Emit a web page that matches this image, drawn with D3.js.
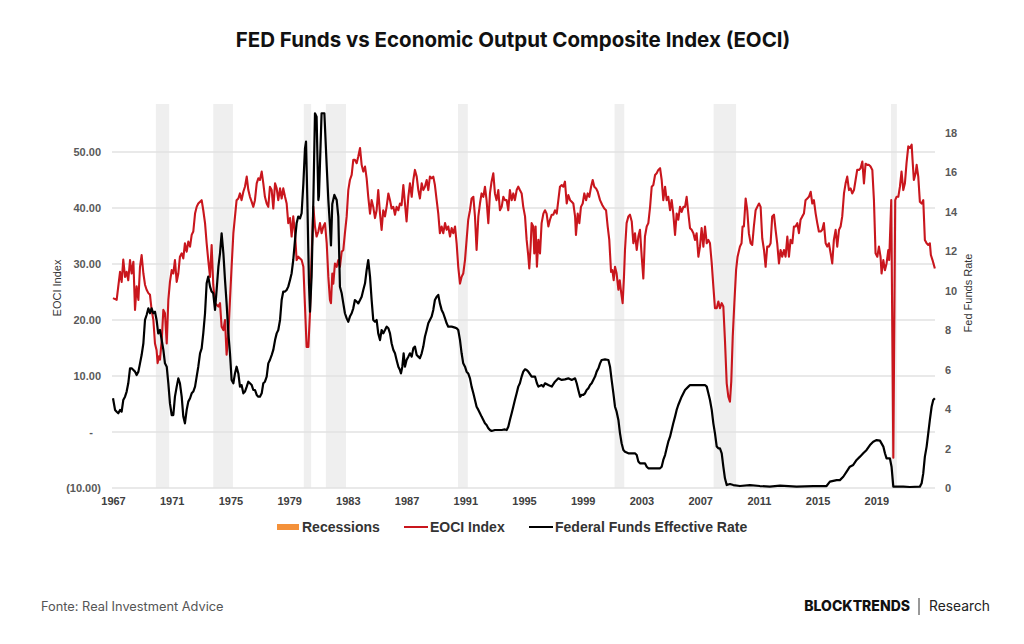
<!DOCTYPE html>
<html>
<head>
<meta charset="utf-8">
<script src="https://cdn.jsdelivr.net/npm/d3@7/dist/d3.min.js"></script>
<style>
  body { margin: 0; background: #fff; }
</style>
</head>
<body>
<svg id="chart" width="1024" height="644"></svg>
<script>
// recession bands (start / end, decimal years)
const recessionStarts = [1969.92, 1973.83, 1980.0, 1981.5, 1990.5, 2001.17, 2007.92, 2020.0];
const recessionEnds   = [1970.83, 1975.17, 1980.5, 1982.87, 1991.17, 2001.83, 2009.45, 2020.4];

const eociYears = [
  1967.00, 1967.25, 1967.36, 1967.48, 1967.59, 1967.70, 1967.82, 1967.93, 1968.04, 1968.16, 1968.27, 1968.39, 1968.50, 1968.61, 1968.73, 1968.84, 1968.95,
  1969.07, 1969.18, 1969.29, 1969.41, 1969.52, 1969.63, 1969.75, 1969.86, 1969.97, 1970.04, 1970.13, 1970.20, 1970.32, 1970.43, 1970.54, 1970.66, 1970.77, 1970.88,
  1971.00, 1971.11, 1971.22, 1971.34, 1971.45, 1971.56, 1971.68, 1971.79, 1971.90, 1972.02, 1972.13, 1972.25, 1972.36, 1972.47, 1972.59, 1972.70, 1972.81,
  1973.04, 1973.15, 1973.27, 1973.38, 1973.49, 1973.61, 1973.72, 1973.83, 1973.95, 1974.18, 1974.29, 1974.40, 1974.52, 1974.63, 1974.74, 1974.86, 1974.97,
  1975.08, 1975.20, 1975.42, 1975.54, 1975.65, 1975.76, 1975.88, 1975.99, 1976.11, 1976.22, 1976.33, 1976.45, 1976.56, 1976.67, 1976.79, 1976.90,
  1977.01, 1977.13, 1977.24, 1977.35, 1977.47, 1977.58, 1977.69, 1977.81, 1977.92, 1978.04, 1978.15, 1978.26, 1978.38, 1978.49, 1978.60, 1978.72, 1978.83, 1978.94,
  1979.06, 1979.17, 1979.28, 1979.40, 1979.51, 1979.62, 1979.85, 1979.97, 1980.08, 1980.19, 1980.31, 1980.42, 1980.53, 1980.65, 1980.76, 1980.87, 1980.99,
  1981.10, 1981.21, 1981.33, 1981.44, 1981.56, 1981.67, 1981.78, 1981.85, 1981.94, 1982.01, 1982.12, 1982.24, 1982.35, 1982.46, 1982.58, 1982.69, 1982.80, 1982.92,
  1983.03, 1983.14, 1983.26, 1983.37, 1983.48, 1983.60, 1983.71, 1983.83, 1983.94, 1984.05, 1984.17, 1984.28, 1984.39, 1984.51, 1984.62, 1984.73, 1984.85, 1984.96,
  1985.07, 1985.19, 1985.30, 1985.41, 1985.53, 1985.64, 1985.76, 1985.87, 1985.98, 1986.10, 1986.21, 1986.32, 1986.44, 1986.55, 1986.66, 1986.78, 1986.89,
  1987.00, 1987.12, 1987.23, 1987.35, 1987.46, 1987.57, 1987.69, 1987.80, 1987.91, 1988.03, 1988.14, 1988.25, 1988.37, 1988.48, 1988.59, 1988.71, 1988.82, 1988.93,
  1989.05, 1989.16, 1989.27, 1989.39, 1989.50, 1989.62, 1989.73, 1989.84, 1989.96, 1990.07, 1990.18, 1990.30, 1990.41, 1990.52, 1990.64, 1990.75, 1990.86, 1990.98,
  1991.09, 1991.20, 1991.32, 1991.43, 1991.55, 1991.66, 1991.77, 1991.89, 1992.00, 1992.11, 1992.23, 1992.34, 1992.45, 1992.57, 1992.68, 1992.79, 1992.91,
  1993.02, 1993.13, 1993.25, 1993.36, 1993.48, 1993.59, 1993.70, 1993.82, 1993.93, 1994.04, 1994.16, 1994.27, 1994.38, 1994.50, 1994.61, 1994.72, 1994.84, 1994.95,
  1995.07, 1995.18, 1995.29, 1995.36, 1995.45, 1995.52, 1995.63, 1995.70, 1995.79, 1995.88, 1995.98, 1996.09, 1996.20, 1996.32, 1996.43, 1996.54, 1996.66, 1996.77, 1996.89,
  1997.00, 1997.11, 1997.23, 1997.34, 1997.45, 1997.57, 1997.68, 1997.79, 1997.91, 1998.02, 1998.14, 1998.25, 1998.36, 1998.48, 1998.54, 1998.66, 1998.77, 1998.88,
  1999.00, 1999.11, 1999.23, 1999.34, 1999.45, 1999.57, 1999.68, 1999.79, 1999.91, 2000.02, 2000.18, 2000.34, 2000.47, 2000.59, 2000.70, 2000.81, 2000.93,
  2001.02, 2001.11, 2001.20, 2001.31, 2001.43, 2001.52, 2001.61, 2001.72, 2001.81, 2001.88, 2001.99, 2002.11, 2002.22, 2002.34, 2002.45, 2002.56, 2002.68, 2002.79, 2002.90,
  2003.02, 2003.13, 2003.24, 2003.36, 2003.47, 2003.59, 2003.70, 2003.81, 2003.93, 2004.04, 2004.15, 2004.27, 2004.38, 2004.49, 2004.61, 2004.72, 2004.83, 2004.95,
  2005.06, 2005.17, 2005.29, 2005.40, 2005.51, 2005.63, 2005.74, 2005.86, 2005.97, 2006.08, 2006.20, 2006.31, 2006.42, 2006.54, 2006.65, 2006.76, 2006.88, 2006.99,
  2007.10, 2007.22, 2007.33, 2007.45, 2007.56, 2007.67, 2007.79, 2007.90, 2008.01, 2008.13, 2008.24, 2008.35, 2008.47, 2008.58, 2008.69, 2008.81, 2008.92,
  2009.03, 2009.12, 2009.22, 2009.33, 2009.45, 2009.55, 2009.71, 2009.82, 2009.89, 2009.98, 2010.10, 2010.21, 2010.32, 2010.44, 2010.55, 2010.66, 2010.78, 2010.89,
  2011.01, 2011.12, 2011.23, 2011.35, 2011.46, 2011.57, 2011.69, 2011.80, 2011.91, 2012.03, 2012.14, 2012.25, 2012.37, 2012.48, 2012.59, 2012.71, 2012.82, 2012.94,
  2013.05, 2013.16, 2013.28, 2013.39, 2013.50, 2013.62, 2013.73, 2013.84, 2013.96, 2014.07, 2014.18, 2014.30, 2014.41, 2014.53, 2014.64, 2014.75, 2014.87, 2014.98,
  2015.09, 2015.21, 2015.32, 2015.43, 2015.55, 2015.66, 2015.77, 2015.89, 2016.00, 2016.11, 2016.23, 2016.34, 2016.46, 2016.57, 2016.68, 2016.80, 2016.91,
  2017.02, 2017.14, 2017.25, 2017.36, 2017.48, 2017.59, 2017.70, 2017.82, 2017.93, 2018.05, 2018.16, 2018.27, 2018.39, 2018.50, 2018.61, 2018.73, 2018.84, 2018.95,
  2019.07, 2019.18, 2019.29, 2019.36, 2019.48, 2019.59, 2019.70, 2019.82, 2019.88, 2020.02, 2020.16, 2020.29, 2020.38, 2020.50, 2020.61, 2020.72, 2020.84, 2020.95,
  2021.06, 2021.18, 2021.29, 2021.41, 2021.47, 2021.56, 2021.68, 2021.75, 2021.86, 2021.97, 2022.09, 2022.20, 2022.31, 2022.43, 2022.54, 2022.65, 2022.72, 2022.83, 2022.99
];
const eociValues = [
  23.9, 23.6, 26.0, 28.6, 26.8, 30.8, 27.7, 28.6, 27.1, 30.7, 28.3, 30.4, 21.8, 26.0, 23.6, 29.5, 31.6,
  28.3, 26.3, 25.4, 24.8, 24.5, 21.8, 20.0, 15.8, 14.6, 12.3, 13.5, 12.9, 16.4, 21.8, 21.2, 15.8, 23.6, 26.8,
  28.9, 28.3, 30.7, 26.8, 28.3, 31.3, 31.9, 31.0, 33.7, 32.2, 34.0, 33.1, 35.2, 35.8, 39.0, 40.2, 40.8,
  41.4, 39.6, 37.3, 33.7, 30.7, 27.7, 33.4, 26.3, 23.0, 22.4, 23.0, 18.8, 18.2, 20.0, 13.8, 17.6, 23.6,
  29.5, 35.5, 41.4, 41.7, 42.6, 41.4, 42.9, 43.8, 45.6, 43.2, 42.0, 41.1, 40.2, 41.4, 44.4, 45.3,
  45.0, 46.5, 44.4, 42.0, 40.8, 40.2, 43.8, 43.2, 39.9, 44.4, 43.5, 41.4, 43.5, 41.7, 43.5, 42.0, 40.8, 37.3,
  38.2, 34.9, 38.5, 35.5, 30.7, 31.3, 30.7, 29.5, 22.4, 15.2, 15.2, 21.2, 31.3, 40.2, 36.7, 34.9, 35.8,
  37.3, 35.5, 36.7, 37.3, 33.7, 27.7, 23.6, 23.0, 28.3, 26.5, 30.1, 29.5, 30.7, 29.5, 32.2, 32.5, 35.5, 38.5,
  43.2, 45.0, 45.9, 48.6, 48.6, 48.0, 49.2, 50.7, 47.7, 46.5, 47.4, 45.3, 42.0, 39.0, 41.4, 40.2, 38.2, 39.6,
  43.2, 39.0, 36.1, 39.6, 38.5, 40.2, 42.6, 41.4, 39.9, 40.2, 38.8, 40.2, 39.6, 40.8, 40.5, 44.1, 40.8,
  37.6, 42.0, 44.4, 42.0, 45.0, 46.8, 45.6, 43.2, 41.7, 44.4, 43.2, 43.8, 45.0, 43.2, 45.6, 45.3, 45.6, 44.1,
  41.4, 39.0, 35.5, 36.7, 35.5, 37.3, 36.1, 36.7, 34.9, 36.4, 35.5, 36.7, 33.7, 29.5, 26.5, 27.7, 28.3, 30.7,
  34.3, 37.9, 39.6, 41.7, 42.0, 38.5, 32.5, 38.5, 40.8, 42.6, 42.0, 43.8, 41.4, 37.3, 42.6, 44.7, 46.2,
  42.6, 41.4, 43.2, 39.6, 40.2, 42.0, 41.4, 41.4, 39.6, 43.2, 41.4, 42.6, 41.4, 43.2, 43.8, 43.2, 42.6, 40.2,
  38.5, 34.3, 31.5, 29.2, 33.1, 37.3, 36.7, 31.9, 36.7, 29.5, 34.3, 31.9, 37.3, 39.0, 39.6, 39.0, 36.7, 37.9, 38.8,
  38.8, 39.6, 39.0, 41.4, 43.8, 44.1, 43.8, 44.7, 40.8, 42.3, 41.4, 41.1, 40.8, 38.5, 35.2, 39.0, 37.3, 40.2,
  40.8, 42.6, 41.4, 42.6, 42.0, 43.8, 45.0, 43.8, 43.5, 42.9, 41.4, 40.5, 39.9, 39.6, 36.7, 34.3, 28.6,
  28.9, 27.1, 29.5, 28.3, 25.4, 27.1, 25.1, 23.0, 27.7, 32.5, 37.3, 38.5, 38.8, 37.6, 33.7, 35.5, 32.5, 34.9, 36.1,
  31.3, 27.4, 34.9, 36.7, 37.3, 40.2, 43.8, 44.1, 45.9, 46.2, 46.8, 47.1, 45.0, 41.4, 43.8, 41.4, 42.0, 39.6,
  41.4, 39.0, 35.2, 39.0, 37.9, 40.2, 39.3, 40.2, 40.2, 42.0, 39.0, 36.4, 36.1, 35.5, 34.3, 35.5, 31.3, 33.1,
  36.4, 33.1, 36.7, 33.7, 34.3, 33.7, 30.1, 26.0, 22.1, 22.1, 23.3, 22.1, 23.0, 22.4, 16.4, 8.7, 6.3,
  5.4, 9.0, 17.0, 23.0, 29.0, 31.3, 33.1, 33.7, 36.7, 36.7, 41.7, 39.6, 35.5, 33.7, 33.4, 36.7, 39.6, 40.2,
  40.8, 40.2, 34.6, 32.5, 29.5, 33.1, 33.1, 33.7, 38.5, 38.8, 36.1, 33.7, 30.1, 32.5, 31.3, 32.5, 31.3, 34.9,
  31.3, 34.3, 33.7, 36.7, 36.7, 37.3, 35.5, 37.9, 38.5, 39.0, 41.4, 41.7, 42.0, 42.9, 40.8, 41.4, 39.0, 37.3,
  35.8, 35.8, 36.1, 37.3, 33.7, 33.1, 33.7, 31.9, 30.1, 34.3, 36.1, 33.1, 36.1, 36.7, 38.5, 42.6, 44.4,
  45.6, 43.2, 43.5, 42.6, 43.2, 45.0, 46.8, 46.8, 47.1, 48.3, 44.4, 47.9, 47.7, 47.7, 47.4, 46.8, 41.4, 31.9,
  31.3, 33.1, 31.3, 28.3, 30.7, 28.9, 30.1, 32.5, 30.7, 41.4, -4.6, 41.4, 42.0, 42.0, 43.8, 46.5, 43.2, 44.4,
  48.0, 51.0, 50.7, 51.3, 48.6, 45.0, 46.2, 47.7, 45.6, 41.1, 40.8, 41.4, 34.3, 33.7, 33.4, 33.7, 31.6, 30.7, 29.2
];

const ffrYears = [
  1967.00, 1967.14, 1967.25, 1967.36, 1967.48, 1967.59, 1967.70, 1967.82, 1967.93, 1968.04, 1968.16, 1968.27, 1968.39, 1968.50, 1968.61, 1968.73, 1968.84, 1968.95,
  1969.07, 1969.18, 1969.29, 1969.41, 1969.52, 1969.63, 1969.75, 1969.86, 1969.97, 1970.08, 1970.20, 1970.32, 1970.43, 1970.54, 1970.66, 1970.77, 1970.88,
  1971.00, 1971.11, 1971.22, 1971.34, 1971.45, 1971.56, 1971.68, 1971.79, 1971.90, 1972.02, 1972.13, 1972.25, 1972.36, 1972.47, 1972.59, 1972.70, 1972.81, 1972.93,
  1973.04, 1973.15, 1973.27, 1973.38, 1973.49, 1973.61, 1973.72, 1973.83, 1973.95, 1974.06, 1974.18, 1974.29, 1974.40, 1974.52, 1974.63, 1974.74, 1974.86, 1974.97,
  1975.08, 1975.20, 1975.31, 1975.42, 1975.54, 1975.65, 1975.76, 1975.88, 1975.99, 1976.11, 1976.22, 1976.33, 1976.45, 1976.56, 1976.67, 1976.79, 1976.90,
  1977.01, 1977.13, 1977.24, 1977.35, 1977.47, 1977.58, 1977.69, 1977.81, 1977.92, 1978.04, 1978.15, 1978.26, 1978.38, 1978.49, 1978.60, 1978.72, 1978.83, 1978.94,
  1979.06, 1979.17, 1979.28, 1979.40, 1979.51, 1979.62, 1979.74, 1979.85, 1979.97, 1980.08, 1980.15, 1980.24, 1980.35, 1980.42, 1980.53, 1980.65, 1980.76, 1980.87, 1980.99,
  1981.03, 1981.21, 1981.40, 1981.56, 1981.67, 1981.78, 1981.85, 1981.94, 1982.08, 1982.24, 1982.35, 1982.46, 1982.58, 1982.69, 1982.80, 1982.92,
  1983.03, 1983.14, 1983.26, 1983.37, 1983.48, 1983.60, 1983.71, 1983.83, 1983.94, 1984.05, 1984.17, 1984.28, 1984.39, 1984.51, 1984.62, 1984.73, 1984.85, 1984.96,
  1985.07, 1985.19, 1985.30, 1985.41, 1985.53, 1985.64, 1985.76, 1985.87, 1985.98, 1986.10, 1986.21, 1986.32, 1986.44, 1986.55, 1986.62, 1986.71, 1986.80, 1986.89,
  1987.00, 1987.12, 1987.23, 1987.35, 1987.46, 1987.57, 1987.69, 1987.80, 1987.91, 1988.03, 1988.14, 1988.25, 1988.37, 1988.48, 1988.59, 1988.71, 1988.82, 1988.93,
  1989.05, 1989.16, 1989.27, 1989.39, 1989.50, 1989.62, 1989.73, 1989.84, 1990.07, 1990.30, 1990.41, 1990.52, 1990.64, 1990.75, 1990.86, 1990.98,
  1991.09, 1991.20, 1991.32, 1991.43, 1991.55, 1991.66, 1991.77, 1991.89, 1992.00, 1992.11, 1992.23, 1992.34, 1992.45, 1992.57, 1992.68, 1992.79,
  1993.02, 1993.48, 1993.70, 1993.82, 1993.93, 1994.04, 1994.16, 1994.27, 1994.38, 1994.50, 1994.61, 1994.72, 1994.84, 1994.95,
  1995.07, 1995.18, 1995.29, 1995.52, 1995.75, 1995.88, 1995.98, 1996.20, 1996.32, 1996.43, 1996.66, 1996.89, 1997.11, 1997.34, 1997.57, 1997.79,
  1998.02, 1998.25, 1998.48, 1998.59, 1998.70, 1998.82, 1998.93, 1999.04, 1999.16, 1999.27, 1999.38, 1999.50, 1999.61, 1999.72, 1999.84, 1999.95,
  2000.07, 2000.18, 2000.29, 2000.52, 2000.75, 2000.86, 2000.97, 2001.09, 2001.20, 2001.31, 2001.43, 2001.54, 2001.65, 2001.77, 2001.88,
  2002.11, 2002.34, 2002.56, 2002.68, 2002.79, 2002.90, 2003.24, 2003.36, 2003.47, 2004.27, 2004.38, 2004.49, 2004.61, 2004.72, 2004.83, 2004.95,
  2005.06, 2005.17, 2005.29, 2005.40, 2005.51, 2005.74, 2005.97, 2006.20, 2006.31, 2007.33, 2007.45, 2007.56, 2007.67, 2007.79, 2007.90,
  2008.01, 2008.13, 2008.24, 2008.35, 2008.47, 2008.58, 2008.69, 2008.81, 2009.03, 2009.26, 2009.71, 2010.39, 2011.07, 2011.75, 2012.44, 2013.57, 2014.71, 2015.61,
  2015.84, 2016.30, 2016.52, 2016.75, 2016.98, 2017.20, 2017.43, 2017.66, 2017.89, 2018.11, 2018.34, 2018.57, 2018.79, 2019.02, 2019.25, 2019.48, 2019.59, 2019.70, 2019.93,
  2020.04, 2020.16, 2020.84, 2021.29, 2021.97, 2022.09, 2022.20, 2022.31, 2022.43, 2022.54, 2022.65, 2022.77, 2022.88, 2022.99
];
const ffrValues = [
  4.55, 3.96, 3.87, 3.79, 3.96, 3.87, 4.46, 4.63, 4.89, 5.31, 6.07, 6.07, 5.98, 5.90, 5.73, 5.90, 6.32, 6.74,
  7.34, 8.52, 8.77, 9.11, 8.86, 9.11, 8.86, 8.94, 8.52, 7.84, 8.01, 7.50, 7.00, 6.32, 6.15, 5.31, 4.29,
  3.70, 3.70, 4.63, 5.14, 5.56, 5.31, 4.63, 3.62, 3.28, 3.96, 4.38, 4.55, 4.80, 4.89, 5.14, 5.65, 6.15, 6.83,
  7.08, 7.84, 8.86, 10.38, 10.72, 10.21, 9.96, 9.87, 9.03, 10.04, 11.22, 11.90, 12.91, 11.90, 10.55, 9.36, 7.84, 6.83,
  5.48, 5.31, 5.81, 6.15, 5.81, 5.14, 5.22, 4.80, 4.89, 5.14, 5.39, 5.31, 5.22, 4.97, 4.97, 4.72, 4.63,
  4.63, 4.80, 5.31, 5.39, 5.65, 6.32, 6.49, 6.74, 7.00, 7.50, 7.84, 8.01, 8.52, 9.53, 9.96, 9.96, 10.04, 10.21,
  10.55, 10.89, 11.56, 12.58, 13.42, 13.76, 13.67, 13.93, 15.45, 17.22, 17.56, 14.60, 10.38, 8.94, 10.72, 14.60, 19.00, 18.83, 14.60,
  14.80, 19.00, 19.00, 16.30, 14.60, 13.30, 12.30, 14.40, 14.86, 14.60, 13.76, 10.20, 9.87, 9.36, 8.86, 8.60,
  8.43, 8.69, 8.86, 9.11, 9.53, 9.45, 9.36, 9.53, 9.70, 10.04, 10.38, 11.05, 11.56, 10.72, 9.53, 8.52, 8.43, 8.52,
  7.84, 7.50, 8.01, 7.84, 8.01, 8.18, 8.10, 7.84, 7.34, 7.00, 6.83, 6.49, 6.15, 5.98, 5.81, 6.15, 6.83, 6.15,
  6.49, 6.66, 6.83, 6.66, 7.08, 7.17, 6.74, 6.66, 6.58, 6.83, 7.17, 7.67, 8.01, 8.35, 8.52, 8.69, 9.03, 9.53,
  9.70, 9.79, 9.36, 9.03, 8.86, 8.60, 8.35, 8.18, 8.18, 8.13, 8.10, 8.01, 7.50, 6.83, 6.32, 6.15,
  5.90, 5.81, 5.56, 5.14, 4.80, 4.46, 4.12, 3.96, 3.79, 3.62, 3.45, 3.28, 3.19, 3.03, 2.94, 2.89,
  2.94, 2.94, 2.97, 2.94, 3.11, 3.45, 3.79, 4.12, 4.46, 4.80, 5.14, 5.31, 5.65, 5.90,
  6.02, 5.98, 5.90, 5.65, 5.65, 5.31, 5.14, 5.22, 5.14, 5.31, 5.22, 5.14, 5.39, 5.56, 5.48, 5.51,
  5.56, 5.48, 5.56, 5.31, 4.97, 4.63, 4.72, 4.72, 4.80, 4.97, 5.05, 5.22, 5.31, 5.48, 5.65, 5.90,
  6.07, 6.32, 6.49, 6.52, 6.49, 6.15, 5.48, 4.80, 4.12, 3.87, 3.45, 2.77, 2.27, 1.93, 1.84,
  1.76, 1.76, 1.76, 1.67, 1.34, 1.25, 1.25, 1.08, 1.00, 1.00, 1.08, 1.42, 1.67, 2.01, 2.35, 2.60,
  2.94, 3.28, 3.62, 3.96, 4.21, 4.63, 4.97, 5.14, 5.22, 5.22, 5.14, 4.80, 4.46, 3.96, 3.28,
  2.77, 2.10, 2.01, 2.01, 1.76, 1.08, 0.49, 0.15, 0.20, 0.15, 0.10, 0.15, 0.10, 0.07, 0.12, 0.07, 0.10, 0.10,
  0.32, 0.40, 0.40, 0.57, 0.83, 1.08, 1.17, 1.42, 1.59, 1.76, 1.93, 2.18, 2.35, 2.43, 2.40, 2.10, 1.76, 1.50, 1.50,
  1.08, 0.07, 0.07, 0.05, 0.07, 0.24, 0.74, 1.59, 2.10, 2.77, 3.45, 4.12, 4.46, 4.55
];

const leftTicks = [-10, 0, 10, 20, 30, 40, 50];
const rightTicks = [0, 2, 4, 6, 8, 10, 12, 14, 16, 18];
const yearTicks = [1967, 1971, 1975, 1979, 1983, 1987, 1991, 1995, 1999, 2003, 2007, 2011, 2015, 2019];

const eociColor = '#c9161d';
const ffrColor = '#000000';
const recessionFill = '#efefef';
const legendOrange = '#f4913a';
const chartFont = '"Liberation Sans", Arial, sans-serif';

var plot = { left: 113, right: 935, top: 104, bottom: 488 };

function init() {
  var svg = d3.select('#chart');

  var x = d3.scaleLinear().domain([1967, 2023]).range([plot.left, plot.right]);
  var yLeft = d3.scaleLinear().domain([-10, 58.57]).range([plot.bottom, plot.top]);
  var yRight = d3.scaleLinear().domain([0, 19.47]).range([plot.bottom, plot.top]);

  // title
  svg.append('text')
     .attr('x', 513).attr('y', 47)
     .attr('text-anchor', 'middle')
     .attr('font-family', 'Inter, "Noto Sans", sans-serif')
     .attr('font-size', 20.5).attr('font-weight', 700)
     .attr('fill', '#111')
     .text('FED Funds vs Economic Output Composite Index (EOCI)');

  // recession shading
  svg.append('g').selectAll('rect')
     .data(recessionStarts).enter().append('rect')
     .attr('x', d => x(d))
     .attr('width', (d, i) => x(recessionEnds[i]) - x(d))
     .attr('y', plot.top)
     .attr('height', plot.bottom - plot.top)
     .attr('fill', recessionFill);

  // gridlines from the left axis
  svg.append('g').selectAll('line')
     .data(leftTicks).enter().append('line')
     .attr('x1', plot.left - 1).attr('x2', plot.right)
     .attr('y1', d => yLeft(d)).attr('y2', d => yLeft(d))
     .attr('stroke', '#e2e2e2').attr('stroke-width', 1.3);

  // left axis
  var fmt = d3.format('.2f');
  var leftAxis = svg.append('g')
     .attr('transform', 'translate(' + (plot.left - 12) + ',0)')
     .call(d3.axisLeft(yLeft).tickValues(leftTicks).tickSize(0).tickPadding(0)
       .tickFormat(d => d === 0 ? '-' : (d < 0 ? '(' + fmt(-d) + ')' : fmt(d))));
  leftAxis.select('.domain').remove();
  leftAxis.selectAll('text')
     .attr('font-family', chartFont).attr('font-size', 11).attr('font-weight', 700)
     .attr('fill', '#595959')
     .attr('dx', d => d === 0 ? -8 : 0);

  // right axis
  var rightAxis = svg.append('g')
     .attr('transform', 'translate(' + (plot.right + 10) + ',0)')
     .call(d3.axisRight(yRight).tickValues(rightTicks).tickSize(0).tickPadding(0));
  rightAxis.select('.domain').remove();
  rightAxis.selectAll('text')
     .attr('font-family', chartFont).attr('font-size', 11).attr('font-weight', 700)
     .attr('fill', '#595959');

  // bottom axis
  var bottomAxis = svg.append('g')
     .attr('transform', 'translate(0,' + (plot.bottom + 9) + ')')
     .call(d3.axisBottom(x).tickValues(yearTicks).tickSize(0).tickPadding(0).tickFormat(d3.format('d')));
  bottomAxis.select('.domain').remove();
  bottomAxis.selectAll('text')
     .attr('font-family', chartFont).attr('font-size', 11).attr('font-weight', 700)
     .attr('fill', '#404040');

  // axis titles
  svg.append('text')
     .attr('transform', 'translate(61,288) rotate(-90)')
     .attr('text-anchor', 'middle')
     .attr('font-family', chartFont).attr('font-size', 11)
     .attr('fill', '#333')
     .text('EOCI Index');

  svg.append('text')
     .attr('transform', 'translate(972,293) rotate(-90)')
     .attr('text-anchor', 'middle')
     .attr('font-family', chartFont).attr('font-size', 11)
     .attr('fill', '#333')
     .text('Fed Funds Rate');

  // series
  var eociLine = d3.line().x(d => x(d)).y((d, i) => yLeft(eociValues[i]));
  var ffrLine = d3.line().x(d => x(d)).y((d, i) => yRight(ffrValues[i]));

  svg.append('path')
     .attr('d', eociLine(eociYears))
     .attr('fill', 'none')
     .attr('stroke', eociColor).attr('stroke-width', 2.1)
     .attr('stroke-linejoin', 'round');

  svg.append('path')
     .attr('d', ffrLine(ffrYears))
     .attr('fill', 'none')
     .attr('stroke', ffrColor).attr('stroke-width', 2.2)
     .attr('stroke-linejoin', 'round');

  // legend
  var legendY = 527;
  var legend = svg.append('g').attr('font-family', chartFont).attr('font-size', 14)
                  .attr('font-weight', 700).attr('fill', '#333');
  legend.append('rect').attr('x', 277).attr('y', legendY - 3).attr('width', 22).attr('height', 6).attr('fill', legendOrange);
  legend.append('text').attr('x', 302).attr('y', legendY + 5).text('Recessions');
  legend.append('line').attr('x1', 404).attr('x2', 428).attr('y1', legendY).attr('y2', legendY)
        .attr('stroke', eociColor).attr('stroke-width', 2);
  legend.append('text').attr('x', 430).attr('y', legendY + 5).text('EOCI Index');
  legend.append('line').attr('x1', 529).attr('x2', 553).attr('y1', legendY).attr('y2', legendY)
        .attr('stroke', ffrColor).attr('stroke-width', 2);
  legend.append('text').attr('x', 555).attr('y', legendY + 5).text('Federal Funds Effective Rate');

  // footer
  svg.append('text')
     .attr('x', 41).attr('y', 611)
     .attr('font-family', 'Inter, Roboto, sans-serif').attr('font-size', 12.8)
     .attr('fill', '#555')
     .text('Fonte: Real Investment Advice');

  svg.append('text')
     .attr('x', 910).attr('y', 611)
     .attr('text-anchor', 'end')
     .attr('font-family', 'Inter, Roboto, sans-serif').attr('font-size', 14).attr('font-weight', 800)
     .attr('fill', '#111')
     .text('BLOCKTRENDS');
  svg.append('line')
     .attr('x1', 919).attr('x2', 919).attr('y1', 598).attr('y2', 615)
     .attr('stroke', '#333').attr('stroke-width', 1);
  svg.append('text')
     .attr('x', 929).attr('y', 611)
     .attr('font-family', 'Inter, Roboto, sans-serif').attr('font-size', 13.8)
     .attr('fill', '#222')
     .text('Research');
}

init();
</script>
</body>
</html>
